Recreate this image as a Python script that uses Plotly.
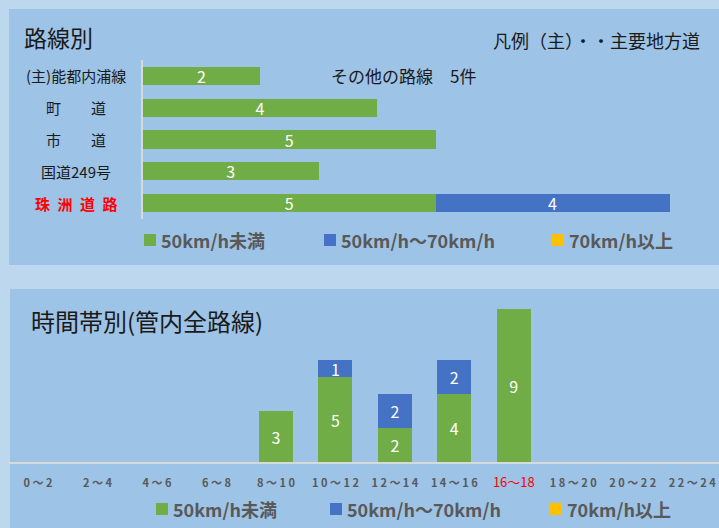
import plotly.graph_objects as go

# ---------------- data ----------------
routes = ["(主)能都内浦線", "町　　道", "市　　道", "国道249号", "珠\u2002洲\u2002道\u2002路"]
route_under50 = [2, 4, 5, 3, 5]
route_50to70 = [0, 0, 0, 0, 4]
route_over70 = [0, 0, 0, 0, 0]

hours = ["0～2", "2～4", "4～6", "6～8", "8～10", "10～12",
         "12～14", "14～16", "16～18", "18～20", "20～22", "22～24"]
hour_under50 = [0, 0, 0, 0, 3, 5, 2, 4, 9, 0, 0, 0]
hour_50to70 = [0, 0, 0, 0, 0, 1, 2, 2, 0, 0, 0, 0]
hour_over70 = [0, 0, 0, 0, 0, 0, 0, 0, 0, 0, 0, 0]

series_names = ["50km/h未満", "50km/h～70km/h", "70km/h以上"]
series_colors = ["#70AD47", "#4472C4", "#FFC000"]

title_top = "路線別"
title_bottom = "時間帯別(管内全路線)"
note_legend = "凡例（主）・・主要地方道"
note_other = "その他の路線　5件"

# ---------------- helpers ----------------
W, H = 719, 528
FONT = "Noto Sans CJK JP"


def px(x):
    return x / W


def py(y):
    return 1 - y / H


fig = go.Figure()

route_series = [route_under50, route_50to70, route_over70]
hour_series = [hour_under50, hour_50to70, hour_over70]

for name, color, vals in zip(series_names, series_colors, route_series):
    fig.add_trace(go.Bar(
        y=routes, x=vals, orientation="h", name=name,
        marker=dict(color=color, line=dict(width=0)),
        text=[str(v) if v else "" for v in vals],
        textposition="inside", insidetextanchor="middle",
        constraintext="none", textangle=0,
        textfont=dict(color="white", size=16, family=FONT),
        xaxis="x", yaxis="y", showlegend=False, hoverinfo="skip"))

for name, color, vals in zip(series_names, series_colors, hour_series):
    fig.add_trace(go.Bar(
        x=hours, y=vals, name=name,
        marker=dict(color=color, line=dict(width=0)),
        text=[str(v) if v else "" for v in vals],
        textposition="inside", insidetextanchor="middle",
        constraintext="none", textangle=0,
        textfont=dict(color="white", size=16, family=FONT),
        xaxis="x2", yaxis="y2", showlegend=False, hoverinfo="skip"))

# tick text for bottom axis
tick_display = []
for h in hours:
    if h == "16～18":
        tick_display.append(
            "<span style='color:#FF0000;font-size:13px;font-weight:normal'>"
            + h + "</span>")
    else:
        tick_display.append(" ".join(list(h)))

shapes = [
    dict(type="rect", xref="paper", yref="paper", x0=px(9), x1=1,
         y0=py(265), y1=py(9), fillcolor="#9DC3E6", line=dict(width=0),
         layer="below"),
    dict(type="rect", xref="paper", yref="paper", x0=px(10), x1=1,
         y0=0, y1=py(289), fillcolor="#9DC3E6", line=dict(width=0),
         layer="below"),
]

annotations = [
    dict(text=title_top, xref="paper", yref="paper", x=px(22), y=py(37),
         xanchor="left", yanchor="middle", showarrow=False,
         font=dict(size=23, color="#1a1a1a", family=FONT)),
    dict(text=title_bottom, xref="paper", yref="paper", x=px(29), y=py(320),
         xanchor="left", yanchor="middle", showarrow=False,
         font=dict(size=24, color="#1a1a1a", family=FONT)),
    dict(text=note_legend, xref="paper", yref="paper", x=px(702), y=py(40),
         xanchor="right", yanchor="middle", showarrow=False,
         font=dict(size=18, color="#1a1a1a", family=FONT)),
    dict(text=note_other, xref="paper", yref="paper", x=px(329), y=py(75),
         xanchor="left", yanchor="middle", showarrow=False,
         font=dict(size=17, color="#1a1a1a", family=FONT)),
]

# category labels (centered) for top chart
for i, r in enumerate(routes):
    last = i == len(routes) - 1
    annotations.append(dict(
        text=("<b>" + r + "</b>") if last else r,
        xref="paper", yref="y", x=px(76), y=r,
        xanchor="center", yanchor="middle", showarrow=False,
        font=dict(size=15,
                  color="#FF0000" if last else "#1a1a1a", family=FONT)))

# manual legends
legend_rows = [([144, 324, 552], 240), ([156, 330, 550], 509)]
for xs, yc in legend_rows:
    for x0, name, color in zip(xs, series_names, series_colors):
        shapes.append(dict(type="rect", xref="paper", yref="paper",
                           x0=px(x0), x1=px(x0 + 12),
                           y0=py(yc + 6), y1=py(yc - 6),
                           fillcolor=color, line=dict(width=0)))
        annotations.append(dict(
            text="<b>" + name + "</b>", xref="paper", yref="paper",
            x=px(x0 + 15), y=py(yc), xanchor="left", yanchor="middle",
            showarrow=False,
            font=dict(size=18, color="#595959", family=FONT)))

fig.update_layout(
    width=W, height=H,
    margin=dict(l=0, r=0, t=0, b=0),
    paper_bgcolor="#BDD7EE", plot_bgcolor="rgba(0,0,0,0)",
    barmode="stack", bargap=0.43,
    font=dict(family=FONT),
    shapes=shapes, annotations=annotations,
    xaxis=dict(domain=[px(143), 1], range=[0, (W - 143) / 58.5],
               visible=False, anchor="y", fixedrange=True),
    yaxis=dict(domain=[py(219), py(60)], type="category",
               categoryarray=routes, range=[4.5, -0.5],
               showticklabels=False, showgrid=False, zeroline=False,
               showline=True, linecolor="#D9D9D9", linewidth=1.5,
               anchor="x", fixedrange=True),
    xaxis2=dict(domain=[px(8.3), 1], type="category", categoryarray=hours,
                range=[-0.5, 11.45],
                tickmode="array", tickvals=hours, ticktext=tick_display,
                tickfont=dict(size=11, color="#595959", family=FONT,
                              weight="bold"),
                ticks="", ticklabelstandoff=10,
                showgrid=False, zeroline=False,
                showline=True, linecolor="#D9D9D9", linewidth=2,
                anchor="y2", fixedrange=True),
    yaxis2=dict(domain=[py(462), py(292)], range=[0, 10], visible=False,
                anchor="x2", fixedrange=True),
)

fig.write_html("out.html", config={"displayModeBar": False},
               post_script="document.body.style.margin='0';"
                           "document.body.style.overflow='hidden';")
